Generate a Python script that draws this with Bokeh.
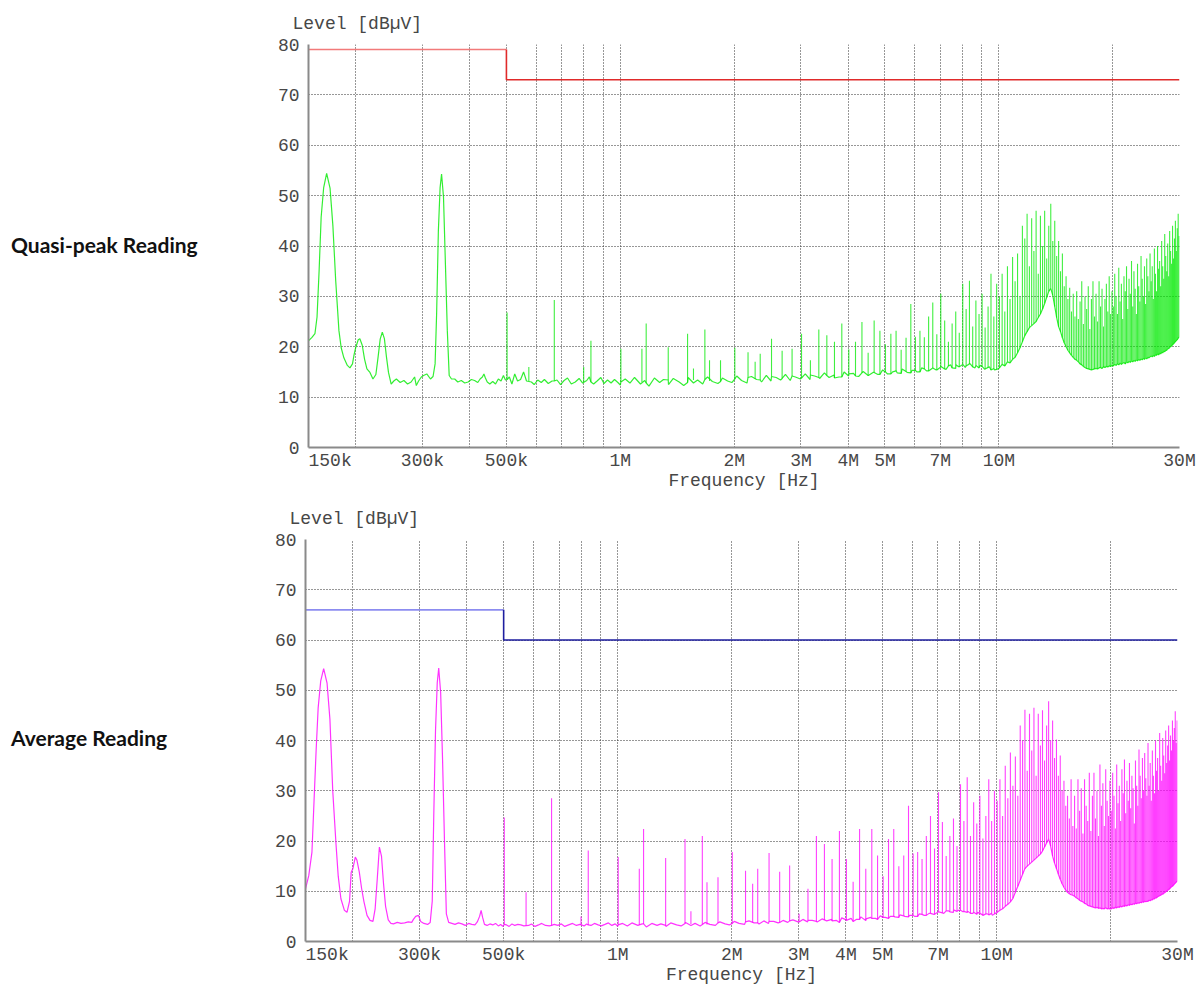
from bokeh.plotting import figure
from bokeh.models import Range1d, FixedTicker, Div
from bokeh.layouts import column, row
from bokeh.embed import file_html
from bokeh.resources import INLINE

# ---------------- axes ----------------
x_range_hz = [150000, 30000000]
y_range_db = [0, 80]
x_tick_hz = [150000, 300000, 500000, 1000000, 2000000, 3000000, 4000000, 5000000,
             7000000, 10000000, 30000000]
x_tick_labels = ["150k", "300k", "500k", "1M", "2M", "3M", "4M", "5M", "7M", "10M", "30M"]
x_grid_hz = [200000, 300000, 400000, 500000, 600000, 700000, 800000, 900000,
             1000000, 2000000, 3000000, 4000000, 5000000, 6000000, 7000000, 8000000, 9000000,
             10000000, 20000000, 30000000]
y_ticks = [0, 10, 20, 30, 40, 50, 60, 70, 80]

# ---------------- limits ----------------
qp_limit_mhz = [0.15, 0.5, 0.5, 30.0]
qp_limit_db = [79, 79, 73, 73]
avg_limit_mhz = [0.15, 0.5, 0.5, 30.0]
avg_limit_db = [66, 66, 60, 60]

# ---------------- low-frequency trace (150 kHz .. 1 MHz) ----------------
low_khz = [150, 153, 156, 158, 160, 162, 164.5, 167.5, 171, 174,
           177, 180.5, 183, 186, 190, 193, 196, 198, 200, 203,
           205, 208, 211, 214, 218, 222, 226, 229, 232, 235,
           238, 241, 244, 248, 252, 256, 262, 268, 274, 280,
           286, 289, 293, 298, 302, 308, 315, 320, 324, 327,
           330.5, 334, 337, 341, 345, 349, 353, 358, 365, 372,
           380, 388, 396, 404, 412, 420, 426, 432, 436, 440,
           445, 452, 460, 468, 476, 484, 491, 497, 509, 517,
           526, 535, 545, 555, 565, 582, 592, 605, 618, 630,
           645, 660, 680, 695, 710, 725, 742, 760, 778, 795,
           815, 828, 850, 868, 888, 905, 925, 945, 965, 985]
qp_low = [21.2, 21.8, 22.6, 25.9, 35.1, 45.7, 51.6, 54.4, 51.5, 44.0,
          33.1, 23.2, 19.8, 17.8, 16.3, 15.8, 16.6, 18.5, 19.9, 21.4,
          21.6, 20.3, 17.5, 15.6, 14.9, 13.6, 14.5, 17.9, 21.5, 22.9,
          21.6, 18.0, 14.9, 12.6, 13.2, 13.6, 12.9, 13.3, 12.6, 13.0,
          14.0, 12.3, 13.2, 14.0, 14.3, 14.6, 13.6, 14.1, 16.6, 26.5,
          43.0, 51.6, 54.3, 49.7, 36.4, 23.2, 14.3, 13.6, 13.6, 13.0,
          13.3, 12.8, 13.0, 13.5, 13.3, 12.9, 13.6, 14.0, 14.6, 13.8,
          13.0, 12.6, 13.1, 12.6, 13.6, 13.2, 14.3, 13.4, 14.0, 12.6,
          14.6, 13.2, 13.5, 15.0, 13.2, 13.0, 12.5, 13.4, 12.9, 13.5,
          12.7, 13.2, 13.4, 12.5, 13.3, 13.8, 12.6, 13.0, 13.7, 12.8,
          13.3, 14.0, 12.6, 13.2, 13.9, 12.7, 13.4, 12.8, 13.5, 12.9]
avg_low = [10.5, 13.1, 17.8, 28.0, 38.0, 46.5, 51.8, 54.3, 51.4, 44.2,
           30.0, 19.5, 13.0, 8.5, 6.2, 5.8, 8.0, 13.8, 14.5, 16.8,
           16.2, 13.8, 10.5, 7.9, 5.2, 4.2, 4.0, 6.5, 12.5, 18.8,
           17.0, 11.5, 7.0, 4.3, 3.6, 3.5, 3.8, 3.6, 3.7, 3.9,
           3.8, 4.4, 5.0, 5.2, 4.0, 3.6, 3.4, 3.8, 8.0, 25.0,
           42.0, 51.5, 54.4, 49.5, 36.0, 20.0, 5.5, 3.8, 3.6, 3.4,
           3.7, 3.5, 3.2, 3.6, 3.4, 3.3, 3.9, 5.0, 6.2, 4.8,
           3.4, 3.2, 3.5, 3.3, 3.6, 3.1, 3.4, 3.0, 3.3, 3.0,
           3.5, 3.2, 3.4, 3.3, 3.1, 3.2, 3.5, 3.0, 3.3, 3.6,
           3.2, 3.1, 3.4, 3.2, 3.5, 3.0, 3.3, 3.6, 3.2, 3.4,
           3.1, 3.5, 3.2, 3.6, 3.3, 3.1, 3.4, 3.7, 3.2, 3.5]

# ---------------- noise floor 1 .. 10 MHz ----------------
mid_mhz = [1.00, 1.03, 1.06, 1.09, 1.13, 1.16, 1.19, 1.23, 1.27, 1.30,
           1.34, 1.38, 1.43, 1.47, 1.51, 1.56, 1.60, 1.65, 1.70, 1.75,
           1.81, 1.86, 1.92, 1.97, 2.03, 2.09, 2.16, 2.22, 2.29, 2.36,
           2.43, 2.50, 2.58, 2.65, 2.73, 2.81, 2.90, 2.99, 3.08, 3.17,
           3.26, 3.36, 3.46, 3.56, 3.67, 3.78, 3.90, 4.01, 4.13, 4.26,
           4.38, 4.52, 4.65, 4.79, 4.93, 5.08, 5.24, 5.39, 5.55, 5.72,
           5.89, 6.07, 6.25, 6.44, 6.63, 6.83, 7.03, 7.25, 7.46, 7.69,
           7.92, 8.15, 8.40, 8.65, 8.91, 9.18, 9.45, 9.74]
qp_mid = [12.4, 13.6, 12.8, 13.9, 12.6, 13.3, 12.2, 13.8, 12.9, 13.5,
          12.5, 13.7, 13.0, 12.3, 13.9, 12.8, 13.4, 12.6, 14.0, 13.1,
          12.7, 13.8, 13.2, 12.9, 14.2, 13.3, 12.8, 14.1, 13.5, 13.0,
          14.3, 13.2, 13.9, 13.4, 14.5, 13.3, 14.0, 13.6, 14.6, 13.5,
          14.2, 13.7, 14.8, 13.9, 14.4, 14.0, 15.0, 14.2, 14.7, 14.1,
          15.1, 14.3, 14.9, 14.5, 15.4, 14.6, 15.0, 14.8, 15.6, 14.9,
          15.3, 15.0, 15.8, 15.2, 15.6, 15.4, 16.1, 15.5, 16.4, 15.7,
          16.2, 15.9, 16.6, 15.8, 16.3, 15.5, 16.0, 15.4]
avg_mid = [3.0, 3.6, 3.1, 3.7, 3.2, 3.5, 2.9, 3.6, 3.2, 3.5,
           3.0, 3.7, 3.3, 3.1, 3.8, 3.2, 3.6, 3.1, 3.8, 3.4,
           3.2, 3.9, 3.5, 3.3, 4.0, 3.6, 3.4, 4.1, 3.7, 3.5,
           4.1, 3.6, 4.0, 3.7, 4.2, 3.8, 4.3, 3.9, 4.4, 3.9,
           4.2, 3.9, 4.5, 4.1, 4.4, 4.2, 4.7, 4.3, 4.6, 4.4,
           4.9, 4.5, 4.8, 4.6, 5.1, 4.8, 5.0, 4.9, 5.3, 5.0,
           5.2, 5.0, 5.5, 5.2, 5.6, 5.4, 5.9, 5.6, 6.1, 5.8,
           6.2, 5.9, 6.0, 5.6, 5.8, 5.3, 5.5, 5.2]

# ---------------- harmonic spurs (MHz) ----------------
harm_mhz = [0.502, 0.669, 0.836, 1.003, 1.170, 1.338, 1.505, 1.672, 1.839, 2.006,
            2.174, 2.341, 2.508, 2.675, 2.842, 3.010, 3.177, 3.344, 3.511, 3.678,
            3.846, 4.013, 4.180, 4.347, 4.514, 4.682, 4.849, 5.016, 5.183, 5.350,
            5.518, 5.685, 5.852, 6.019, 6.186, 6.354, 6.521, 6.688, 6.855, 7.022,
            7.190, 7.357, 7.524, 7.691, 7.858, 8.026, 8.193, 8.360, 8.527, 8.694,
            8.862, 9.029, 9.196, 9.363, 9.530, 9.698, 9.865, 10.032, 10.199, 10.366,
            10.534, 10.701, 10.868, 11.035, 11.202, 11.370, 11.537, 11.704, 11.871, 12.038,
            12.206, 12.373, 12.540, 12.707, 12.874, 13.042, 13.209, 13.376, 13.543, 13.710,
            13.878, 14.045, 14.212, 14.379, 14.546, 14.714, 14.881, 15.048, 15.215, 15.382,
            15.550, 15.717, 15.884, 16.051, 16.218, 16.386, 16.553, 16.720, 16.887, 17.054,
            17.222, 17.389, 17.556, 17.723, 17.890, 18.058, 18.225, 18.392, 18.559, 18.726,
            18.894, 19.061, 19.228, 19.395, 19.562, 19.730, 19.897, 20.064, 20.231, 20.398,
            20.566, 20.733, 20.900, 21.067, 21.234, 21.402, 21.569, 21.736, 21.903, 22.070,
            22.238, 22.405, 22.572, 22.739, 22.906, 23.074, 23.241, 23.408, 23.575, 23.742,
            23.910, 24.077, 24.244, 24.411, 24.578, 24.746, 24.913, 25.080, 25.247, 25.414,
            25.582, 25.749, 25.916, 26.083, 26.250, 26.418, 26.585, 26.752, 26.919, 27.086,
            27.254, 27.421, 27.588, 27.755, 27.922, 28.090, 28.257, 28.424, 28.591, 28.758,
            28.926, 29.093, 29.260, 29.427, 29.594, 29.762, 29.929]

qp_harm_top = [26.8, 29.3, 21.2,
               19.6, 24.6, 19.9, 22.6, 23.4, 17.3,
               19.8, 18.9, 18.6, 21.6, 19.2, 19.6, 22.6, 17.3, 23.4, 22.3, 21.0,
               24.6, 19.5, 21.0, 24.9, 18.8, 25.2, 23.2, 20.5, 22.6, 23.2, 19.4, 21.8, 28.5, 22.0,
               23.2, 21.9, 26.0, 28.8, 22.5, 30.5, 25.2, 21.0, 24.6, 27.0, 22.8, 32.5,
               27.5, 33.1, 24.0, 29.2, 26.5, 30.5, 23.8, 28.0, 34.5, 26.0, 32.5,
               30.0, 34.5, 27.0, 36.0, 29.5, 37.8,
               33.0, 38.5, 30.0, 44.0, 41.5, 46.4,
               36.0, 45.5, 39.0, 47.0, 34.5, 46.0,
               40.0, 47.0, 37.5, 44.0, 48.4, 41.0,
               45.0, 38.0, 41.0, 35.0, 38.5, 32.0,
               34.0, 29.5, 31.7, 27.0, 30.5, 26.0,
               31.0, 25.5, 29.0, 33.0, 24.5, 30.0, 27.5, 32.0, 23.5, 29.5, 33.0, 26.0,
               30.5, 25.0, 33.0, 28.0, 31.5, 24.0, 29.5, 32.5, 27.0, 34.0, 26.5, 31.0,
               28.0, 34.5, 30.0, 26.5, 35.7, 29.0, 32.5, 25.5, 34.0, 31.0,
               36.0, 27.5, 33.5, 30.5, 37.0, 28.0, 35.0, 31.5, 26.5, 36.5,
               32.0, 29.0, 38.0, 33.5, 30.0, 36.0, 28.5, 37.5, 34.0, 31.0,
               38.5, 33.0, 36.0, 29.5, 39.5, 34.5, 31.0, 40.0, 35.5, 37.0,
               32.0, 41.0, 36.0, 33.5, 42.4, 38.0, 35.0, 40.5, 34.0, 43.0,
               39.0, 36.5, 44.0, 37.5, 41.5, 45.0, 39.0, 43.5, 46.4, 42.0]
qp_harm_floor = [13.5, 13.2, 13.0,
                 13.0, 12.8, 13.4, 12.9, 13.5, 13.1,
                 13.6, 13.9, 13.4, 14.1, 13.7, 14.2, 13.8, 14.4, 13.9, 14.3, 13.8,
                 14.0, 14.6, 14.2, 14.8, 14.3, 14.9, 14.5, 15.0, 14.6, 15.2, 14.7, 15.1, 14.8, 15.3,
                 15.0, 15.6, 15.2, 15.8, 15.4, 16.0, 15.6, 16.2, 15.8, 16.4, 16.0, 16.5,
                 16.2, 16.6, 16.0, 16.3, 15.8, 16.1, 15.6, 15.9, 15.4, 15.7, 15.5,
                 15.8, 16.5, 16.2, 17.0, 16.8, 17.5,
                 17.9, 18.8, 19.8, 21.0, 22.2, 23.0,
                 23.8, 24.2, 24.6, 25.0, 25.8, 26.5,
                 27.5, 28.6, 29.8, 31.0, 31.6, 30.2,
                 28.0, 25.8, 24.0, 23.0, 21.8, 20.8,
                 20.0, 19.3, 18.8, 18.3, 17.9, 17.5,
                 17.3, 17.0, 16.6, 16.4, 16.1, 15.9, 15.7, 15.6, 15.5, 15.4, 15.5, 15.6,
                 15.7, 15.6, 15.8, 15.9, 15.7, 16.0, 15.9, 16.1, 16.0, 16.2, 16.1, 16.3,
                 16.2, 16.5, 16.3, 16.6, 16.4, 16.8, 16.5, 16.7, 16.9, 16.6,
                 17.0, 16.8, 17.1, 16.9, 17.2, 17.0, 17.3, 17.1, 17.4, 17.2,
                 17.5, 17.3, 17.6, 17.4, 17.7, 17.5, 17.8, 17.6, 17.9, 17.8,
                 18.0, 18.2, 18.0, 18.3, 18.1, 18.4, 18.3, 18.6, 18.4, 18.7,
                 18.6, 18.9, 18.8, 19.1, 19.0, 19.3, 19.3, 19.6, 19.6, 19.9,
                 20.0, 20.2, 20.4, 20.6, 20.8, 21.0, 21.2, 21.4, 21.7, 21.9]
avg_harm_top = [24.7, 28.5, 18.1,
                16.8, 22.4, 16.6, 20.4, 21.0, 12.8,
                17.8, 14.1, 14.5, 17.6, 13.9, 15.1, 5.5, 10.5, 21.0, 19.4, 16.4,
                22.0, 16.4, 11.9, 22.4, 14.5, 22.4, 17.1, 13.0, 20.4, 22.4, 15.0, 17.1, 27.0, 17.5,
                17.8, 16.4, 21.0, 25.0, 18.5, 29.7, 23.8, 17.0, 21.0, 24.5, 19.0, 31.3,
                24.0, 32.7, 21.0, 27.7, 23.5, 29.0, 20.5, 25.0, 32.3, 24.0, 30.0,
                28.0, 32.3, 25.0, 35.0, 28.5, 37.6,
                31.0, 36.8, 29.0, 43.0, 40.0, 46.1,
                34.0, 45.3, 38.0, 46.5, 33.0, 45.3,
                39.0, 46.0, 36.0, 43.0, 47.8, 40.0,
                44.0, 36.5, 40.2, 33.0, 37.0, 30.0,
                32.0, 27.0, 29.0, 24.5, 32.3, 23.0,
                29.0, 22.5, 32.3, 26.0, 30.5, 21.5, 32.3, 27.0, 24.0, 33.6, 22.0, 29.0,
                33.6, 24.5, 30.0, 21.0, 35.2, 27.0, 31.5, 23.0, 34.3, 28.0, 25.0, 32.0,
                26.0, 33.6, 29.0, 22.5, 35.2, 27.5, 31.0, 24.0, 34.3, 29.5,
                36.2, 25.5, 32.0, 28.0, 35.5, 26.5, 33.0, 30.5, 23.5, 36.0,
                31.0, 27.0, 38.2, 33.0, 28.5, 36.5, 30.0, 37.5, 32.5, 29.0,
                39.5, 31.0, 35.5, 28.0, 38.0, 33.0, 29.5, 40.0, 34.0, 36.5,
                30.0, 41.5, 35.0, 32.0, 40.5, 37.0, 33.5, 42.0, 35.5, 39.0,
                43.0, 36.0, 41.0, 38.0, 44.0, 40.0, 42.5, 45.8, 39.5, 44.0]
avg_harm_floor = [3.4, 3.2, 3.3,
                  3.3, 3.5, 3.2, 3.6, 3.4, 3.7,
                  3.6, 3.9, 3.7, 4.0, 3.8, 4.1, 3.9, 4.2, 4.0, 4.3, 4.1,
                  3.8, 4.2, 4.0, 4.4, 4.2, 4.6, 4.4, 4.8, 4.6, 5.0, 4.8, 5.1, 4.9, 5.2,
                  5.0, 5.4, 5.2, 5.6, 5.4, 5.9, 5.7, 6.1, 5.9, 6.3, 6.0, 6.2,
                  6.0, 5.8, 5.6, 5.8, 5.4, 5.6, 5.2, 5.5, 5.3, 5.6, 5.5,
                  5.8, 6.2, 6.5, 7.0, 7.4, 7.9,
                  8.6, 9.8, 11.0, 12.2, 13.4, 14.5,
                  15.0, 15.4, 15.8, 16.2, 16.6, 17.0,
                  17.4, 18.0, 18.8, 19.6, 20.4, 19.0,
                  17.0, 15.6, 14.5, 13.4, 12.4, 11.5,
                  10.8, 10.2, 9.8, 9.5, 9.3, 9.2,
                  9.0, 8.7, 8.5, 8.2, 8.0, 7.9, 7.6, 7.5, 7.2, 7.1, 7.0, 6.9,
                  6.8, 6.7, 6.8, 6.6, 6.7, 6.5, 6.6, 6.5, 6.7, 6.5, 6.6, 6.5,
                  6.5, 6.7, 6.6, 6.8, 6.7, 6.9, 6.8, 7.0, 6.9, 7.1,
                  7.0, 7.2, 7.1, 7.3, 7.2, 7.4, 7.3, 7.5, 7.4, 7.6,
                  7.5, 7.7, 7.6, 7.8, 7.7, 7.9, 7.8, 8.0, 7.9, 8.0,
                  8.0, 8.2, 8.1, 8.3, 8.3, 8.5, 8.5, 8.7, 8.7, 8.9,
                  9.0, 9.1, 9.2, 9.4, 9.4, 9.6, 9.7, 9.9, 10.0, 10.2,
                  10.3, 10.5, 10.7, 10.9, 11.0, 11.2, 11.4, 11.6, 11.8, 12.0]

# ---------------- secondary spurs (MHz) ----------------
extra_mhz = [0.573, 0.800, 1.140, 1.560, 1.720, 2.270]
qp_extra_top = [16.0, 16.0, 19.6, 15.7, 17.3, 17.0]
qp_extra_floor = [13.2, 13.0, 13.0, 13.4, 13.2, 13.6]
avg_extra_top = [9.8, 5.0, 14.5, 6.0, 11.8, 11.5]
avg_extra_floor = [3.2, 3.3, 3.3, 3.5, 3.4, 3.8]

MONO = "Liberation Mono"
TXT = "#474747"
NB = "\u00a0"
SIDE_W = 230


def make_chart(low_vals, mid_vals, h_top, h_floor, e_top, e_floor, lim_mhz, lim_db,
               trace_color, lim_colors, frame_left, frame_w, frame_h, b_top, b_bottom, b_right):
    p = figure(x_axis_type="log",
               x_range=Range1d(x_range_hz[0], x_range_hz[1]),
               y_range=Range1d(y_range_db[0], y_range_db[1]),
               frame_width=frame_w, frame_height=frame_h,
               min_border_left=frame_left - SIDE_W, min_border_right=b_right,
               min_border_top=b_top, min_border_bottom=b_bottom,
               output_backend="svg", toolbar_location=None,
               background_fill_color="white", border_fill_color="white",
               outline_line_color=None, margin=0)

    # title "Level [dBuV]"
    p.title.text = "Level [dBµV]"
    p.title.align = "left"
    p.title.offset = -16
    p.title.standoff = 22
    p.title.text_font = MONO
    p.title.text_font_size = "18px"
    p.title.text_font_style = "normal"
    p.title.text_color = TXT

    # grid
    p.xgrid.ticker = FixedTicker(ticks=x_grid_hz)
    p.ygrid.ticker = FixedTicker(ticks=y_ticks[1:])
    for g in (p.xgrid, p.ygrid):
        g.grid_line_color = "#2e2e2e"
        g.grid_line_dash = "1 2"
        g.grid_line_width = 1

    # axes
    labels = list(x_tick_labels)
    labels[0] = NB * 4 + labels[0]
    p.xaxis.ticker = FixedTicker(ticks=x_tick_hz, minor_ticks=[])
    p.xaxis.major_label_overrides = {t: l for t, l in zip(x_tick_hz, labels)}
    p.yaxis.ticker = FixedTicker(ticks=y_ticks, minor_ticks=[])
    for ax in (p.xaxis, p.yaxis):
        ax.axis_line_color = "#8a8a8a"
        ax.axis_line_width = 2
        ax.major_tick_line_color = None
        ax.minor_tick_line_color = None
        ax.major_label_text_font = MONO
        ax.major_label_text_font_size = "18px"
        ax.major_label_text_color = TXT
    p.yaxis.major_label_standoff = 3
    p.xaxis.major_label_standoff = -3
    p.xaxis.axis_label = "Frequency [Hz]"
    p.xaxis.axis_label_text_font = MONO
    p.xaxis.axis_label_text_font_size = "18px"
    p.xaxis.axis_label_text_font_style = "normal"
    p.xaxis.axis_label_text_color = TXT
    p.xaxis.axis_label_standoff = -3

    # trace (noise floor)
    pts = sorted([(k * 1e3, v) for k, v in zip(low_khz, low_vals)] +
                 [(m * 1e6, v) for m, v in zip(mid_mhz, mid_vals)] +
                 [(m * 1e6, v) for m, v in zip(harm_mhz, h_floor)])
    p.line([a for a, _ in pts], [b for _, b in pts],
           line_color=trace_color, line_alpha=0.8, line_width=1.2)

    # spurs
    hx = [m * 1e6 for m in harm_mhz]
    p.segment(x0=hx, y0=h_floor, x1=hx, y1=h_top,
              line_color=trace_color, line_alpha=0.75, line_width=1.1)
    ex = [m * 1e6 for m in extra_mhz]
    p.segment(x0=ex, y0=e_floor, x1=ex, y1=e_top,
              line_color=trace_color, line_alpha=0.75, line_width=1.1)

    # limit lines
    lx = [m * 1e6 for m in lim_mhz]
    p.line(lx[:2], lim_db[:2], line_color=lim_colors[0], line_width=1.6)
    p.line(lx[1:], lim_db[1:], line_color=lim_colors[1], line_width=1.6)
    return p


def side_div(text, height, pad_top):
    html = ('<div style="padding-top:%dpx;padding-left:11px;font-family:Lato;'
            'font-weight:700;font-size:21px;line-height:26px;color:#111111;'
            'white-space:nowrap;">%s</div>' % (pad_top, text))
    return Div(text=html, width=SIDE_W, height=height, margin=0)


top = make_chart(qp_low, qp_mid, qp_harm_top, qp_harm_floor, qp_extra_top, qp_extra_floor,
                 qp_limit_mhz, qp_limit_db, "#00ea00", ["#f27a7a", "#e02a2a"],
                 frame_left=308, frame_w=871, frame_h=403, b_top=44, b_bottom=48, b_right=17)
bottom = make_chart(avg_low, avg_mid, avg_harm_top, avg_harm_floor, avg_extra_top, avg_extra_floor,
                    avg_limit_mhz, avg_limit_db, "#ff00ff", ["#8c8cf0", "#1e1ea0"],
                    frame_left=305, frame_w=872, frame_h=402, b_top=42, b_bottom=46, b_right=19)

layout = column(row(side_div("Quasi-peak Reading", 495, 232), top),
                row(side_div("Average Reading", 490, 230), bottom))
open("out.html", "w").write(file_html(layout, INLINE))
